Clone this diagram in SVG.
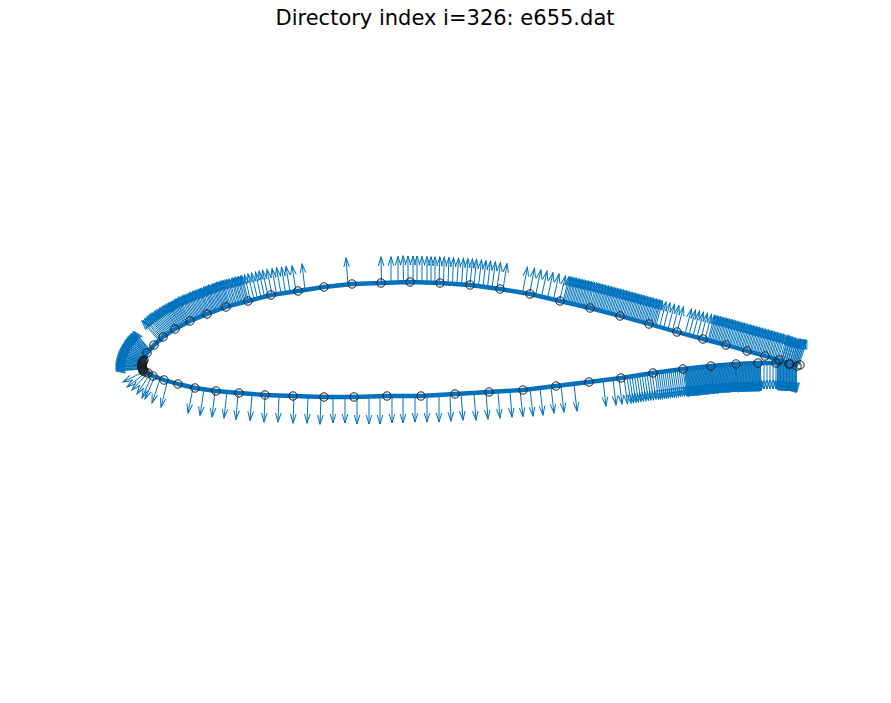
<svg xmlns="http://www.w3.org/2000/svg" xmlns:xlink="http://www.w3.org/1999/xlink" width="891" height="703" viewBox="0 0 891 703">
<style>
text{font-family:"DejaVu Sans",sans-serif;font-size:21px;fill:#000}
#airfoil path{fill:none;stroke:#0072BD;stroke-width:4.4;stroke-linejoin:round}
#normals path{fill:none;stroke:#0072BD;stroke-width:1;marker-end:url(#h)}
#points circle{fill:none;stroke:#1a1a1a;stroke-width:1;r:4.2px}
</style>
<defs><marker id="h" markerUnits="userSpaceOnUse" viewBox="-11 -4 12 8" refX="0" refY="0" markerWidth="12" markerHeight="8" orient="auto"><path d="M-9-2.800L0 0L-9 2.800" fill="none" stroke="#0072BD" stroke-width="1"/></marker></defs>
<rect width="891" height="703" fill="#fff"/>
<text id="title" x="445" y="25" text-anchor="middle">Directory index i=326: e655.dat</text>
<g id="airfoil"><path d="M798 365L790 364L779 360L765 356L747 351L726 345L703 339L677 332L649 324L620 316L590 308L560 301L530 294L500 289L470 285L440 283L410 282L381 283L352 284L324 287L298 291L271 295L248 301L226 307L207 314L190 321L175 329L163 337L154 345L147 353L143 361L142 366L143 371L148 373L153 376L164 380L178 384L195 388L216 391L239 393L265 395L293 396L324 397L354 397L387 396L421 396L455 394L489 392L523 390L556 386L589 382L621 378L653 373L683 369L711 366L736 364L758 363L776 363L789 364L798 365"/></g>
<g id="normals">
<g id="fan">
<path d="M142.5 369L116.5 371"/><path d="M142 368L116 369"/><path d="M142 367L116 367"/><path d="M142 366L116 365"/><path d="M142 365L116.3 363"/><path d="M142.2 364L116.6 361"/><path d="M142.4 363L117 359"/><path d="M142.7 362L117.5 357"/><path d="M143 361L118 355"/><path d="M143.4 360L118.7 353"/><path d="M143.8 359L119.5 351"/><path d="M144.2 358L120.4 349"/><path d="M144.7 357L121.4 347"/><path d="M145.2 356L122.5 345"/><path d="M145.7 355L123.7 343"/><path d="M146.2 354L125 341"/><path d="M146.8 353L126.4 339"/><path d="M147.4 352.3L127.9 337.3"/><path d="M148 351.6L129.5 335.5"/><path d="M148.8 350.8L131 334"/><path d="M149.6 350L133 332"/>
</g>
<use href="#fan" xlink:href="#fan" transform="rotate(2.2 142 366)"/>
<g id="ul">
<path d="M159 340.6l-17-19.5"/><path d="M161 338.8l-16.5-20"/><path d="M163 337l-16-20.5"/><path d="M165 335.7l-15.5-21"/><path d="M167 334.3l-15-21"/><path d="M169 333l-14.5-21.5"/><path d="M171 331.7l-14-22"/><path d="M173 330.3l-13.5-22"/><path d="M175 329l-13-22.5"/><path d="M177 328l-12.5-22.5"/><path d="M179 326.9l-12-23"/><path d="M181 325.8l-12-23"/><path d="M183 324.7l-11.5-23"/><path d="M185 323.7l-11-23.5"/><path d="M187 322.6l-11-23.5"/><path d="M189 321.5l-10.5-24"/><path d="M191.5 320.4l-10-24"/><path d="M194 319.3l-10-24"/><path d="M196.5 318.3l-9.5-24"/><path d="M199 317.3l-9.5-24.5"/><path d="M201.5 316.3l-9-24.5"/><path d="M204 315.2l-9-24.5"/><path d="M206.5 314.2l-8.5-24.5"/><path d="M209 313.4l-8.5-24.5"/><path d="M211.5 312.4l-8-25"/><path d="M214 311.5l-8-25"/><path d="M216.5 310.5l-8-25"/><path d="M219 309.6l-7.5-25"/><path d="M221.5 308.7l-7.5-25"/><path d="M224 307.7l-7.5-25"/><path d="M226.5 306.9l-7-25"/><path d="M229 306.1l-7-25"/><path d="M232 305.3l-7-25"/><path d="M235 304.5l-7-25"/><path d="M238 303.7l-6.5-25"/><path d="M241 302.9l-6.5-25"/><path d="M244 302.1l-6.5-25"/><path d="M247 301.3l-6.5-25"/>
</g>
<use href="#ul" xlink:href="#ul" transform="translate(1.3 -.5)"/>
<path d="M250.5 300.4l-6-25.500"/><path d="M254 299.5l-6-25.500"/><path d="M257.500 298.6l-6-25.500"/><path d="M261 297.6l-5.500-25.500"/><path d="M264.500 296.7l-5.500-25.500"/><path d="M268 295.800l-5.500-25.500"/><path d="M272 294.900l-5-25.500"/><path d="M276.500 294.200l-4.500-25.500"/><path d="M281 293.500l-4.500-25.500"/><path d="M285.500 292.900l-4-25.500"/><path d="M290 292l-4-25.500"/><path d="M296 291.300l-4-25.500"/><path d="M305 290l-3-26"/>
<path d="M348 284.400l-2-26.400"/><path d="M381.500 283l-.5-26"/><path d="M391 282.700v-26"/><path d="M398 282.400v-26"/><path d="M403.500 282l-.5-26"/><path d="M408 282v-26"/><path d="M413 282v-26"/><path d="M417 282v-26"/><path d="M422 282.400v-26"/><path d="M427 282.600v-26"/><path d="M431 282.700v-26"/><path d="M435 282.800v-26"/><path d="M439 283l.8-26"/><path d="M443.500 283.200l.8-26"/><path d="M448 283.500l1-26"/><path d="M452.500 283.800l1-26"/><path d="M457 284.100l1.500-26"/><path d="M461.500 284.400l2-26"/><path d="M466 284.700l2-26"/><path d="M470 285l2.500-26"/><path d="M474 285.500l2.500-26"/><path d="M478.500 286.100l3-26"/><path d="M483 286.700l3-26"/><path d="M487.500 287.300l3-26"/><path d="M492 287.900l3.500-26"/><path d="M497 288.600l3.500-26"/><path d="M503 289.500l4-26"/>
<path d="M522.500 292.800l5-25.500"/><path d="M529.500 293.900l5-25.500"/><path d="M535.500 295.300l5.500-25.500"/><path d="M541.500 296.700l5.500-25.500"/><path d="M547.500 298.100l5.500-25.500"/><path d="M553.500 299.500l5.500-25.500"/><path d="M559.500 300.900l6-25"/>
<g id="ur">
<path d="M563 301.700l6-25"/><path d="M566 302.400l6-25"/><path d="M569 303.100l6-25"/><path d="M572 303.800l6-25"/><path d="M575 304.500l6-25"/><path d="M578 305.200l6-25"/><path d="M581 305.900l6-25"/><path d="M584 306.600l6-25"/><path d="M587 307.300l6-25"/><path d="M590 308l6.500-25"/><path d="M593 308.800l6.500-25"/><path d="M596 309.600l6.500-25"/><path d="M599 310.400l6.500-25"/><path d="M602 311.200l6.500-25"/><path d="M605 312l6.500-25"/><path d="M608 312.800l6.500-25"/><path d="M611 313.600l6.500-25"/><path d="M614 314.400l6.500-25"/><path d="M617 315.200l6.500-25"/><path d="M620 316l6.500-25"/><path d="M623 316.800l6.500-25"/><path d="M626 317.700l6.500-25"/><path d="M629 318.500l6.500-25"/><path d="M632 319.300l6.500-25"/><path d="M635 320.100l6.500-25"/><path d="M638 321l6.500-25"/><path d="M641 321.800l6.500-25"/><path d="M644 322.600l6.500-25"/><path d="M647 323.400l6.500-25"/><path d="M650 324.300l6.500-25"/><path d="M653 325.100l6.500-25"/>
</g>
<use href="#ur" xlink:href="#ur" transform="translate(1.4 .37)"/>
<path d="M656 326l6.500-25"/><path d="M659.500 327l6.500-25"/><path d="M663.500 328.100l6.500-25"/><path d="M668 329.400l6.500-25"/><path d="M672.500 330.700l6.500-25"/><path d="M677 332l6.500-25"/>
<path d="M685 334.100l6.500-25"/><path d="M689 335.200l6.500-25"/><path d="M693 336.200l6.500-25"/><path d="M697 337.300l6.500-25"/><path d="M701 338.400l6.500-25"/><path d="M705 339.500l6.500-25"/>
<g id="ut">
<path d="M708 340.300l6.500-25"/><path d="M711 341.100l6.500-25"/><path d="M714 341.900l6.500-25"/><path d="M717 342.700l6.500-25"/><path d="M720 343.400l6.500-25"/><path d="M723 344.200l6.500-25"/><path d="M726 345l6.500-25"/><path d="M729 345.900l6.500-25"/><path d="M732 346.700l6.500-25"/><path d="M735 347.600l6.500-25"/><path d="M738 348.400l6.500-25"/><path d="M741 349.300l6.500-25"/><path d="M744 350.100l6.500-25"/><path d="M747 351l6.500-25"/><path d="M750 351.800l6.500-25"/><path d="M753 352.700l6.500-25"/><path d="M756 353.500l6.500-25"/><path d="M759 354.300l6.500-25"/><path d="M762 355.200l6.500-25"/><path d="M765 356l6.500-25"/><path d="M768 356.900l6.500-25"/><path d="M771 357.700l6.500-25"/><path d="M774 358.600l6.500-25"/><path d="M777 359.400l6.500-25"/><path d="M780 360.400l7-25"/><path d="M782 361.100l7-25"/><path d="M784 361.800l7-25"/><path d="M786 362.500l7-25"/><path d="M788 363.300l7-25"/><path d="M790 364l7-25"/><path d="M791.500 364.200l7.500-25"/><path d="M793 364.400l7.500-25"/><path d="M794.500 364.600l7.500-25"/><path d="M796 364.800l8-25"/><path d="M797.500 365l8-25"/>
</g>
<use href="#ut" xlink:href="#ut" transform="translate(1.4 .37)"/>
<path d="M145 371l-22 11"/><path d="M147 372l-20 15"/><path d="M148 373l-16 17"/><path d="M150 374l-13 20"/><path d="M152 375l-10 23"/><path d="M155 376l-10 23"/><path d="M160 379l-8 24"/><path d="M167 383l-6 24"/>
<path d="M193 388l-5 25"/><path d="M204 389.500l-4 26"/><path d="M215 391l-3 26"/><path d="M227 392l-3 26"/><path d="M238 393l-2 26.500"/><path d="M252 394l-2 26.500"/><path d="M265 395l-1 27"/><path d="M279 396l-1 26"/><path d="M294 396l-1 27"/><path d="M308 397l-1 26"/><path d="M321 397l-1 27"/><path d="M333 397v26"/><path d="M345 397v26"/><path d="M357 397v27"/><path d="M369 397v27"/><path d="M380 397v27"/><path d="M392 396v27"/><path d="M403 396v27"/><path d="M415 396v26"/><path d="M427 396v26"/><path d="M439 395v27"/><path d="M450 395l1 26"/><path d="M461 394l2 26"/><path d="M474 393l2 27"/><path d="M486 393l2 26"/><path d="M498 392l2 26"/><path d="M510 391l2 26"/><path d="M520 390.500l3 26"/><path d="M530 389l3 27"/><path d="M540 388l3 27"/><path d="M551 387l3 26"/><path d="M561 386l3 26"/><path d="M574 384l3 27"/>
<path d="M603 380l3 26"/><path d="M613 379l3 26"/><path d="M619 378l3 26"/><path d="M624 377.500l3.500 26"/>
<path d="M627 377.100l4 26"/><path d="M629.500 376.700l4 26"/><path d="M632 376.300l4 26"/><path d="M634.500 375.900l4 26"/><path d="M637 375.500l4 26"/><path d="M639.500 375.100l4 26"/><path d="M642 374.700l4 26"/><path d="M644.500 374.300l4 26"/><path d="M647 374l4 26"/><path d="M649.500 373.600l4 26"/><path d="M652 373.200l4 26"/>
<path d="M655 372.700l3.500 26.500"/><path d="M657 372.500l3.500 26.500"/><path d="M659 372.200l3.500 26.500"/><path d="M661 371.900l3.500 26.500"/><path d="M663 371.700l3.500 26.500"/><path d="M665 371.400l3.500 26.500"/><path d="M667 371.100l3.500 26.500"/><path d="M669 370.900l3.500 26.500"/><path d="M671 370.600l3.500 26.500"/><path d="M673 370.300l3.500 26.500"/><path d="M675 370.100l3.500 26.500"/><path d="M677 369.800l3.500 26.500"/><path d="M679 369.500l3.500 26.500"/><path d="M681 369.300l3.500 26.500"/><path d="M683 369l3.500 26.500"/>
<g id="lt">
<path d="M684.500 368.800l3 27"/><path d="M686 368.700l3 27"/><path d="M687.500 368.500l3 27"/><path d="M689 368.400l3 27"/><path d="M690.500 368.200l3 27"/><path d="M692 368l3 27"/><path d="M693.500 367.900l3 27"/><path d="M695 367.700l3 27"/><path d="M696.500 367.600l3 27"/><path d="M698 367.400l3 27"/><path d="M699.500 367.200l3 27"/><path d="M701 367.100l3 27"/><path d="M702.500 366.900l3 27"/><path d="M704 366.800l3 27"/><path d="M705.500 366.600l3 27"/><path d="M707 366.400l3 27"/><path d="M708.500 366.300l3 27"/><path d="M710 366.100l3 27"/>
<path d="M711.500 366l2 27"/><path d="M713 365.800l2 27"/><path d="M714.500 365.700l2 27"/><path d="M716 365.600l2 27"/><path d="M717.500 365.500l2 27"/><path d="M719 365.400l2 27"/><path d="M720.500 365.200l2 27"/><path d="M722 365.100l2 27"/><path d="M723.500 365l2 27"/><path d="M725 364.900l2 27"/><path d="M726.500 364.800l2 27"/><path d="M728 364.600l2 27"/><path d="M729.500 364.500l2 27"/><path d="M731 364.400l2 27"/><path d="M732.500 364.300l2 27"/><path d="M734 364.200l2 27"/>
<path d="M735.500 364l1 27.500"/><path d="M737 364l1 27.500"/><path d="M738.500 363.900l1 27.500"/><path d="M740 363.800l1 27.500"/><path d="M741.500 363.800l1 27.500"/><path d="M743 363.700l1 27.500"/><path d="M744.500 363.600l1 27.500"/><path d="M746 363.500l1 27.500"/><path d="M747.500 363.500l1 27.500"/><path d="M749 363.400l1 27.500"/><path d="M750.500 363.300l1 27.500"/><path d="M752 363.300l1 27.500"/><path d="M753.500 363.200l1 27.500"/><path d="M755 363.100l1 27.500"/><path d="M756.500 363.100l1 27.500"/><path d="M758 363l1 27.500"/><path d="M759.500 363l1 27.500"/>
</g>
<use href="#lt" xlink:href="#lt" transform="translate(.75 0)"/>
<path d="M764 363v26"/><path d="M767 363v26"/><path d="M770 363v26"/><path d="M773 363v26"/><path d="M776 363v26"/>
<g id="le">
<path d="M777.500 363.100v27"/><path d="M779 363.200v27"/><path d="M780.500 363.300v27"/><path d="M782 363.500v27"/><path d="M783.500 363.600v27"/><path d="M785 363.700v27"/><path d="M786.500 363.800v27"/><path d="M788 363.900v27"/><path d="M789.500 364v27"/><path d="M791 364.200v27"/><path d="M792.500 364.400v27"/><path d="M794 364.600l.5 27"/><path d="M795.500 364.800l.5 27"/>
</g>
<use href="#le" xlink:href="#le" transform="translate(.75 0)"/>
</g>
<g id="points">
<circle cx="800" cy="365"/><circle cx="797" cy="366"/><circle cx="790" cy="364"/><circle cx="779" cy="360"/><circle cx="765" cy="356"/><circle cx="747" cy="351"/><circle cx="726" cy="345"/><circle cx="703" cy="339"/><circle cx="677" cy="332"/><circle cx="649" cy="324"/><circle cx="620" cy="316"/><circle cx="590" cy="308"/><circle cx="560" cy="301"/><circle cx="530" cy="294"/><circle cx="500" cy="289"/><circle cx="470" cy="285"/><circle cx="440" cy="283"/><circle cx="410" cy="282"/><circle cx="381" cy="283"/><circle cx="352" cy="284"/><circle cx="324" cy="287"/><circle cx="298" cy="291"/><circle cx="271" cy="295"/><circle cx="248" cy="301"/><circle cx="226" cy="307"/><circle cx="207" cy="314"/><circle cx="190" cy="321"/><circle cx="175" cy="329"/><circle cx="163" cy="337"/><circle cx="154" cy="345"/><circle cx="147" cy="353"/>
<circle cx="144" cy="360"/><circle cx="143" cy="361"/><circle cx="143" cy="362"/><circle cx="142" cy="363"/><circle cx="142" cy="364"/><circle cx="142" cy="365"/><circle cx="142" cy="366"/><circle cx="142" cy="367"/><circle cx="142" cy="368"/><circle cx="143" cy="369"/><circle cx="143" cy="370"/><circle cx="143" cy="371"/><circle cx="145" cy="372"/><circle cx="148" cy="373"/>
<circle cx="153" cy="376"/><circle cx="164" cy="380"/><circle cx="178" cy="384"/><circle cx="195" cy="388"/><circle cx="216" cy="391"/><circle cx="239" cy="393"/><circle cx="265" cy="395"/><circle cx="293" cy="396"/><circle cx="324" cy="397"/><circle cx="354" cy="397"/><circle cx="387" cy="396"/><circle cx="421" cy="396"/><circle cx="455" cy="394"/><circle cx="489" cy="392"/><circle cx="523" cy="390"/><circle cx="556" cy="386"/><circle cx="589" cy="382"/><circle cx="621" cy="378"/><circle cx="653" cy="373"/><circle cx="683" cy="369"/><circle cx="711" cy="366"/><circle cx="736" cy="364"/><circle cx="758" cy="363"/><circle cx="776" cy="363"/><circle cx="789" cy="364"/>
</g>
</svg>
